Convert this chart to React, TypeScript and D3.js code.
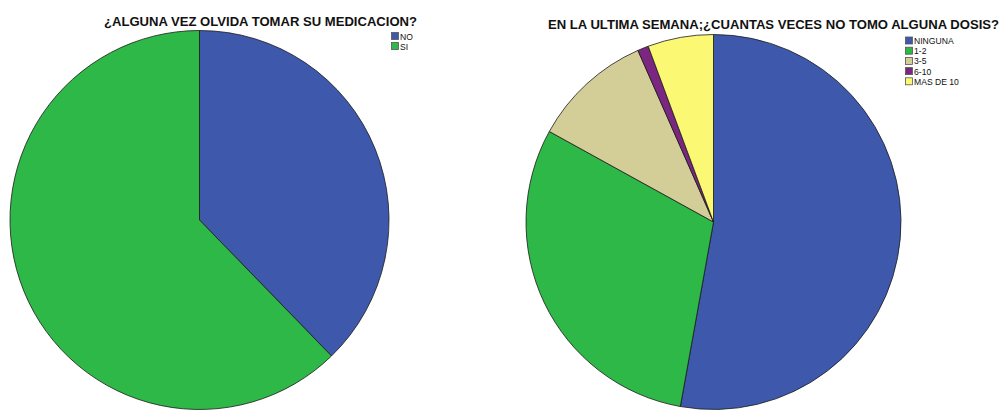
import { useEffect, useRef } from 'react';
import * as d3 from 'd3';

// Chart 1: ¿Alguna vez olvida tomar su medicación?
const forgetLabels = ["NO", "SI"];
const forgetCounts = [40, 66];

// Chart 2: dosis omitidas en la última semana
const dosesLabels = ["NINGUNA", "1-2", "3-5", "6-10", "MAS DE 10"];
const dosesCounts = [56, 32, 11, 1, 6];

const titles = [
  "¿ALGUNA VEZ OLVIDA TOMAR SU MEDICACION?",
  "EN LA ULTIMA SEMANA;¿CUANTAS VECES NO TOMO ALGUNA DOSIS?"
];

const palette = ["#3e58ac", "#2eb848", "#d3ce97", "#7b2781", "#fbf873"];

const WIDTH = 1003;
const HEIGHT = 410;

export default function App() {
  const svgRef = useRef<SVGSVGElement>(null);

  useEffect(() => {
    if (!svgRef.current) return;
    const svg = d3.select(svgRef.current);
    svg.selectAll("*").remove();

    const panels = [
      {
        labels: forgetLabels, values: forgetCounts, title: titles[0],
        cx: 199.5, cy: 220, r: 189.5,
        titleX: 104, titleY: 25.5, titleW: 313,
        legX: 391, legY: 32, legStep: 10
      },
      {
        labels: dosesLabels, values: dosesCounts, title: titles[1],
        cx: 713.5, cy: 222, r: 187.5,
        titleX: 548, titleY: 28.5, titleW: 451,
        legX: 905, legY: 36.5, legStep: 10.2
      }
    ];

    const pie = d3.pie<number>().sort(null).value(d => d);
    const arc = d3.arc<d3.PieArcDatum<number>>().innerRadius(0);

    panels.forEach(p => {
      const color = d3.scaleOrdinal<string, string>().domain(p.labels).range(palette);
      const g = svg.append("g").attr("transform", `translate(${p.cx},${p.cy})`);

      g.selectAll("path")
        .data(pie(p.values))
        .enter().append("path")
        .attr("d", d => arc.outerRadius(p.r)(d) as string)
        .attr("fill", (d, i) => color(p.labels[i]))
        .attr("stroke", "#1a1a1a")
        .attr("stroke-width", 0.8)
        .attr("stroke-linejoin", "round");

      svg.append("text")
        .attr("x", p.titleX)
        .attr("y", p.titleY)
        .attr("textLength", p.titleW)
        .attr("lengthAdjust", "spacingAndGlyphs")
        .style("font-family", "'Liberation Sans', Arial, sans-serif")
        .style("font-weight", "bold")
        .style("font-size", "12px")
        .style("fill", "#111")
        .text(p.title);

      const leg = svg.append("g");
      p.labels.forEach((lab, i) => {
        const y = p.legY + i * p.legStep;
        leg.append("rect")
          .attr("x", p.legX + 0.5)
          .attr("y", y + 0.5)
          .attr("width", 7)
          .attr("height", 7)
          .attr("fill", color(lab))
          .attr("stroke", "#555")
          .attr("stroke-width", 0.8);
        leg.append("text")
          .attr("x", p.legX + 9)
          .attr("y", y + 7.5)
          .style("font-family", "'Liberation Sans', Arial, sans-serif")
          .style("font-size", "8.6px")
          .style("fill", "#111")
          .text(lab);
      });
    });
  }, []);

  return (
    <svg
      ref={svgRef}
      width={WIDTH}
      height={HEIGHT}
      style={{ position: "absolute", left: 0, top: 0, background: "#fff" }}
    />
  );
}
